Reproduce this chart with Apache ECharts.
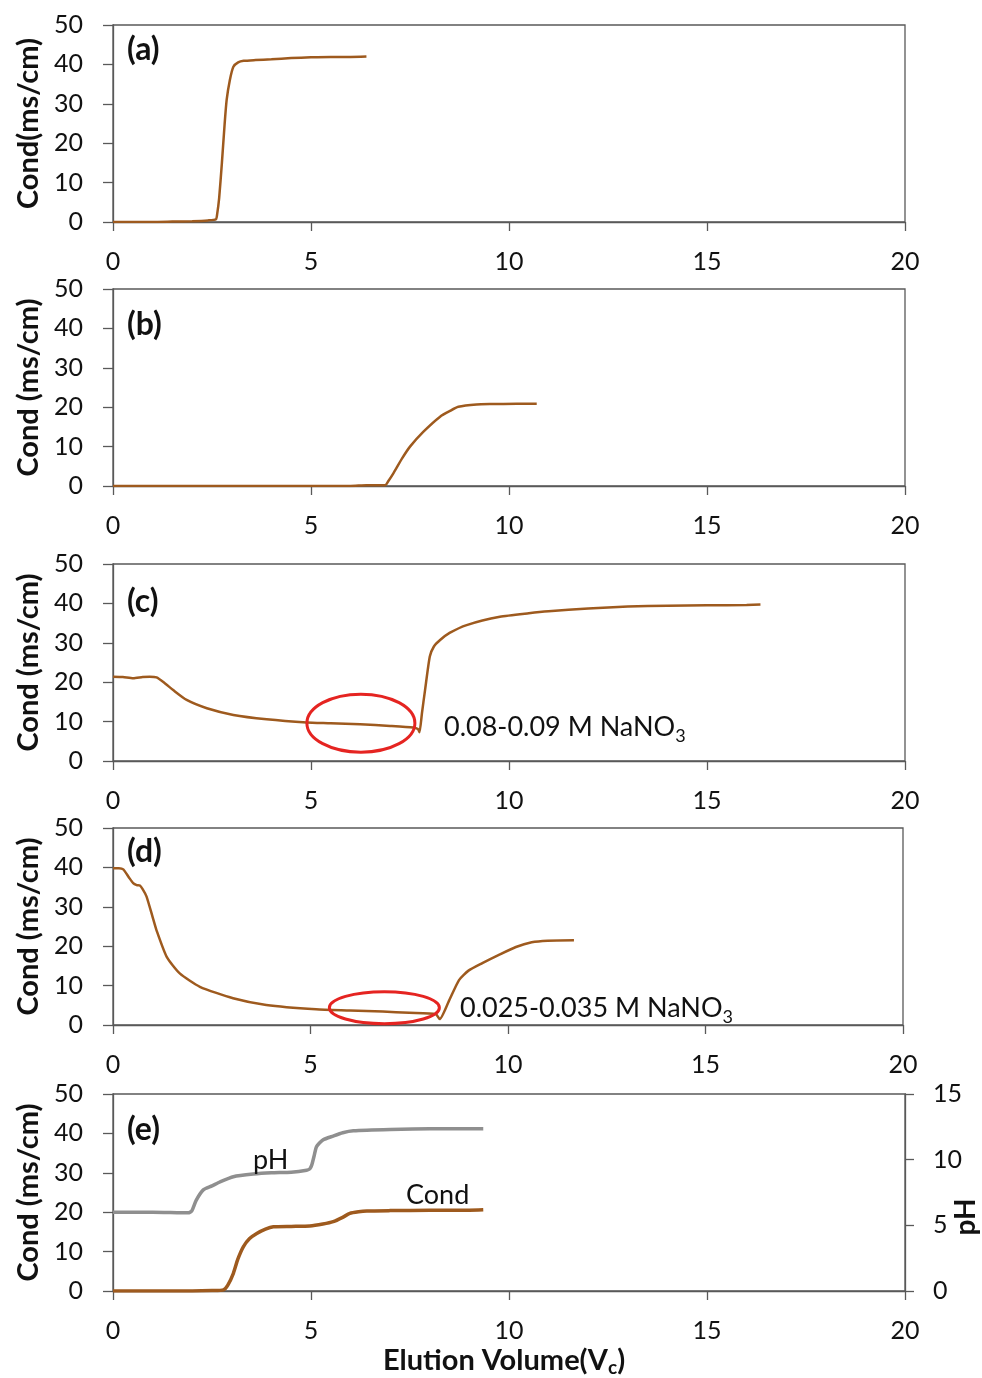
<!DOCTYPE html>
<html>
<head>
<meta charset="utf-8">
<script src="https://cdn.jsdelivr.net/npm/echarts@6/dist/echarts.min.js"></script>
<style>
  html, body { margin: 0; padding: 0; background: #ffffff; }
  #chart { width: 982px; height: 1378px; }
</style>
</head>
<body>
<div id="chart"></div>
<script>
// Elution volume (column volumes) and conductivity (mS/cm) for each run
const volA  = [0, 0.5, 1, 1.5, 2, 2.4, 2.6, 2.63, 2.68, 2.75, 2.82, 2.87, 2.95, 3.04, 3.16, 3.3, 3.6, 4, 4.5, 5, 5.5, 6, 6.4];
const condA = [0, 0, 0, 0.1, 0.2, 0.4, 0.7, 2, 6, 15, 25, 31, 36, 39.4, 40.5, 40.9, 41.1, 41.3, 41.6, 41.8, 41.9, 41.9, 42.0];

const volB  = [0, 2, 4, 6, 6.4, 6.87, 6.95, 7.08, 7.3, 7.5, 7.84, 8.26, 8.5, 8.72, 9.18, 9.6, 10.2, 10.7];
const condB = [0, 0, 0, 0, 0.2, 0.2, 1.2, 3.2, 7.0, 10.0, 13.8, 17.6, 19.0, 20.1, 20.7, 20.8, 20.9, 20.9];

const volC  = [0, 0.25, 0.51, 0.75, 0.93, 1.1, 1.3, 1.52, 1.86, 2.37, 3.04, 3.88, 4.89, 5.5, 6.24, 7.0, 7.58, 7.7, 7.74, 7.8, 7.88, 8.0, 8.1, 8.26, 8.5, 8.93, 9.77, 10.5, 11, 12, 13, 14, 15, 16, 16.35];
const condC = [21.4, 21.3, 21.0, 21.3, 21.4, 21.2, 19.8, 18.0, 15.5, 13.4, 11.7, 10.6, 9.8, 9.6, 9.3, 8.9, 8.5, 8.1, 7.3, 12, 18, 26.5, 29, 30.7, 32.5, 34.5, 36.6, 37.5, 38, 38.7, 39.2, 39.4, 39.5, 39.6, 39.7];

const volD  = [0, 0.15, 0.26, 0.4, 0.51, 0.6, 0.68, 0.75, 0.85, 1.0, 1.1, 1.36, 1.69, 2.2, 3.04, 3.88, 5.14, 6.0, 6.83, 7.5, 8.17, 8.27, 8.5, 8.76, 9.0, 9.35, 9.77, 10.2, 10.6, 11.0, 11.67];
const condD = [39.8, 39.8, 39.5, 37.5, 36.0, 35.5, 35.4, 34.5, 32.6, 27.5, 24.1, 17.3, 13.1, 9.7, 6.8, 5.1, 4.0, 3.7, 3.4, 3.1, 2.8, 1.5, 6.0, 11.4, 13.8, 15.7, 17.8, 19.8, 21.0, 21.4, 21.5];

const volE  = [0, 1, 2, 2.5, 2.79, 2.9, 3.04, 3.15, 3.29, 3.45, 3.63, 3.85, 4.05, 4.5, 4.97, 5.3, 5.56, 5.8, 5.98, 6.2, 6.41, 7, 8, 9, 9.35];
const condE = [0, 0, 0, 0.1, 0.3, 1.5, 4.5, 8.0, 11.2, 13.3, 14.6, 15.7, 16.3, 16.4, 16.5, 17.0, 17.6, 18.7, 19.7, 20.1, 20.3, 20.4, 20.5, 20.5, 20.6];

const volPH = [0, 1, 1.9, 1.99, 2.1, 2.28, 2.5, 2.7, 3.04, 3.54, 4.0, 4.5, 4.89, 4.97, 5.02, 5.08, 5.14, 5.3, 5.56, 5.8, 6.07, 7, 8, 9.35];
const pHE   = [6.0, 6.0, 5.95, 6.1, 6.9, 7.7, 8.0, 8.3, 8.7, 8.9, 9.0, 9.05, 9.2, 9.3, 9.6, 10.3, 11.0, 11.5, 11.8, 12.05, 12.2, 12.3, 12.35, 12.35];

// Axis ranges and texts
const volRange  = [0, 20];
const volStep   = 5;
const condRange = [0, 50];
const condStep  = 10;
const pHRange   = [0, 15];
const pHStep    = 5;
const panelTags = ['(a)', '(b)', '(c)', '(d)', '(e)'];
const condTitles = ['Cond(ms/cm)', 'Cond (ms/cm)', 'Cond (ms/cm)', 'Cond (ms/cm)', 'Cond (ms/cm)'];
const xTitle = 'Elution Volume(V';
const xTitleSub = 'c';
const pHTitle = 'pH';
const noteC = ['0.08-0.09 M NaNO', '3'];
const noteD = ['0.025-0.035 M NaNO', '3'];
// Highlighted regions (centre in data units) for panels (c) and (d)
const ringC = [6.26, 9.6];
const ringD = [6.87, 4.4];

const FONT = 'Lato, "Open Sans", sans-serif';
const AXIS_COLOR = '#595959';
const TEXT_COLOR = '#111111';
const COND_COLOR = '#9E5A1E';
const PH_COLOR = '#8F8F8F';
const RING_COLOR = '#E52421';

const zip = (xs, ys) => xs.map((x, i) => [x, ys[i]]);

const tops = [25, 289, 564, 828, 1094];
const rights = [77, 77, 77, 79, 77];
const plotH = 197;

const grids = tops.map((t, i) => ({
  left: 113, right: rights[i], top: t, height: plotH,
  show: true, borderColor: AXIS_COLOR, borderWidth: 1.3, backgroundColor: 'transparent'
}));

const xAxes = tops.map((t, i) => ({
  type: 'value', gridIndex: i, min: volRange[0], max: volRange[1], interval: volStep,
  axisLine: { show: true, onZero: false, lineStyle: { color: AXIS_COLOR, width: 1.3 } },
  axisTick: { show: true, inside: false, length: 9, lineStyle: { color: AXIS_COLOR, width: 1.3 } },
  splitLine: { show: false },
  axisLabel: { fontFamily: FONT, fontSize: 25, color: TEXT_COLOR, margin: 27 }
}));

const yAxes = tops.map((t, i) => ({
  type: 'value', gridIndex: i, min: condRange[0], max: condRange[1], interval: condStep,
  name: condTitles[i], nameLocation: 'middle', nameRotate: 90, nameGap: 67,
  nameTextStyle: { fontFamily: FONT, fontSize: 29, fontWeight: 'bold', color: TEXT_COLOR },
  axisLine: { show: true, onZero: false, lineStyle: { color: AXIS_COLOR, width: 1.3 } },
  axisTick: { show: true, inside: false, length: 10, lineStyle: { color: AXIS_COLOR, width: 1.3 } },
  splitLine: { show: false },
  axisLabel: { fontFamily: FONT, fontSize: 25, color: TEXT_COLOR, margin: 30 }
}));

// secondary pH axis on the last panel
yAxes.push({
  type: 'value', gridIndex: 4, position: 'right', min: pHRange[0], max: pHRange[1], interval: pHStep,
  axisLine: { show: true, onZero: false, lineStyle: { color: AXIS_COLOR, width: 1.3 } },
  axisTick: { show: true, inside: false, length: 9, lineStyle: { color: AXIS_COLOR, width: 1.3 } },
  splitLine: { show: false },
  axisLabel: { fontFamily: FONT, fontSize: 25, color: TEXT_COLOR, margin: 28 }
});

const condLine = (idx, data, width) => ({
  type: 'line', xAxisIndex: idx, yAxisIndex: idx, data: data,
  showSymbol: false, smooth: 0.2,
  lineStyle: { color: COND_COLOR, width: width }, z: 3
});

const series = [
  condLine(0, zip(volA, condA), 2.5),
  condLine(1, zip(volB, condB), 2.5),
  condLine(2, zip(volC, condC), 2.5),
  condLine(3, zip(volD, condD), 2.5),
  condLine(4, zip(volE, condE), 3.5),
  {
    type: 'line', xAxisIndex: 4, yAxisIndex: 5, data: zip(volPH, pHE),
    showSymbol: false, smooth: 0.2,
    lineStyle: { color: PH_COLOR, width: 3.5 }, z: 3
  }
];

const chart = echarts.init(document.getElementById('chart'), null, { renderer: 'canvas' });
chart.setOption({
  animation: false,
  backgroundColor: '#ffffff',
  grid: grids, xAxis: xAxes, yAxis: yAxes, series: series
});

// Annotations: panel tags, notes, highlighted rings and axis titles
const tagCenters = [50, 325, 602, 852, 1130];
const graphics = [];
panelTags.forEach((tag, i) => {
  graphics.push({
    type: 'text', x: 127, y: tagCenters[i], z: 10,
    style: { text: tag, fontFamily: FONT, fontSize: 32, fontWeight: 'bold', fill: TEXT_COLOR, verticalAlign: 'middle' }
  });
});

const noteText = (note, x, y) => ({
  type: 'text', x: x, y: y, z: 10,
  style: {
    text: '{m|' + note[0] + '}{s|' + note[1] + '}',
    verticalAlign: 'middle',
    rich: {
      m: { fontFamily: FONT, fontSize: 27, fill: TEXT_COLOR },
      s: { fontFamily: FONT, fontSize: 18, fill: TEXT_COLOR, padding: [18, 0, 0, 0] }
    }
  }
});
graphics.push(noteText(noteC, 444, 727));
graphics.push(noteText(noteD, 460, 1008));

const ring = (gi, center, rx, ry) => {
  const p = chart.convertToPixel({ xAxisIndex: gi, yAxisIndex: gi }, center);
  return {
    type: 'ellipse', z: 9, silent: true,
    shape: { cx: p[0], cy: p[1], rx: rx, ry: ry },
    style: { fill: 'none', stroke: RING_COLOR, lineWidth: 3 }
  };
};
graphics.push(ring(2, ringC, 54, 29));
graphics.push(ring(3, ringD, 55, 16));

// series names written beside the curves in panel (e)
graphics.push({
  type: 'text', x: 253, y: 1160, z: 10,
  style: { text: 'pH', fontFamily: FONT, fontSize: 27, fill: TEXT_COLOR, verticalAlign: 'middle' }
});
graphics.push({
  type: 'text', x: 406, y: 1195, z: 10,
  style: { text: 'Cond', fontFamily: FONT, fontSize: 27, fill: TEXT_COLOR, verticalAlign: 'middle' }
});

// x-axis title with subscript
graphics.push({
  type: 'text', x: 504, y: 1361, z: 10,
  style: {
    text: '{m|' + xTitle + '}{s|' + xTitleSub + '}{m|)}',
    align: 'center', verticalAlign: 'middle',
    rich: {
      m: { fontFamily: FONT, fontSize: 29, fontWeight: 'bold', fill: TEXT_COLOR },
      s: { fontFamily: FONT, fontSize: 19, fontWeight: 'bold', fill: TEXT_COLOR, padding: [14, 0, 0, 0] }
    }
  }
});

// secondary axis title
graphics.push({
  type: 'text', x: 966, y: 1217, rotation: Math.PI / 2, z: 10,
  style: { text: pHTitle, fontFamily: FONT, fontSize: 28, fontWeight: 'bold', fill: TEXT_COLOR, align: 'center', verticalAlign: 'middle' }
});

chart.setOption({ graphic: graphics });
</script>
</body>
</html>
